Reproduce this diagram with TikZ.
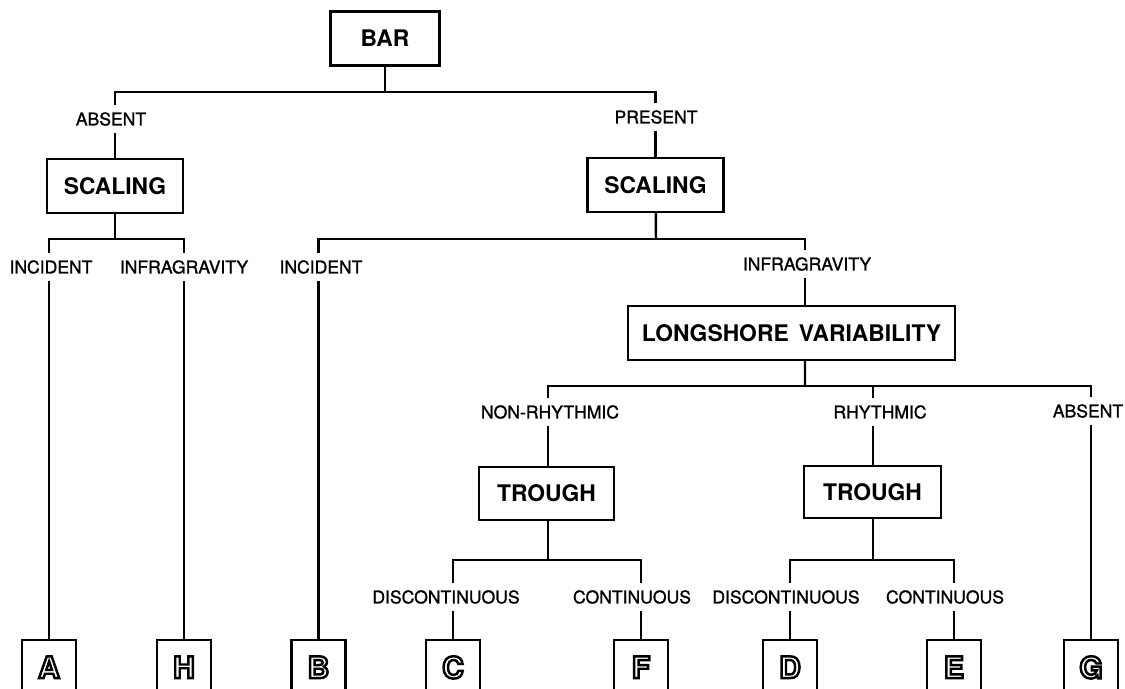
\documentclass[tikz,border=0pt]{standalone}
\usepackage{fontspec}
\setmainfont{TeX Gyre Heros}
\newfontfamily\lblfont[FakeBold=1.2]{TeX Gyre Heros}
\usepackage{xcolor}
\usepackage{tikz}
\usetikzlibrary{calc}

% outlined capitals for the leaves
\newcommand{\hollow}[1]{\raisebox{3.4pt}{\special{pdf:literal direct 1 Tr 1.4 w}#1\special{pdf:literal direct 0 Tr}}}

\tikzset{
  box/.style={draw, line width=1.4pt, minimum height=1.08cm, inner sep=0pt,
    font=\fontsize{13}{15}\selectfont\bfseries},
  lbl/.style={fill=white, inner xsep=1pt, inner ysep=4pt,
    font=\lblfont\fontsize{10}{12}\selectfont},
  leaf/.style={draw, line width=1.4pt, minimum width=1.08cm, minimum height=1.2cm,
    anchor=north, inner sep=0pt, font=\fontsize{17}{20}\selectfont\bfseries},
  wire/.style={line width=1.4pt}
}

\begin{document}
\begin{tikzpicture}[x=0.02cm, y=-0.02cm]

\useasboundingbox (0,0) rectangle (1125,689);
\clip (0,0) rectangle (1125,689);

% boxes
\node[box, minimum width=2.18cm] (bar) at (385,38.5) {BAR};
\node[box, minimum width=2.72cm] (sclL) at (115,186) {SCALING};
\node[box, minimum width=2.72cm] (sclR) at (655.5,185) {SCALING};
\node[box, minimum width=6.54cm] (lsv) at (791.5,333) {LONGSHORE\ \,VARIABILITY};
\node[box, minimum width=2.7cm, minimum height=1.06cm] (trL) at (546.5,493.5) {TROUGH};
\node[box, minimum width=2.74cm, minimum height=1.04cm] (trR) at (872.5,492) {TROUGH};

% leaves
\node[leaf] (A) at (49,639) {\hollow{A}};
\node[leaf] (H) at (184,639) {\hollow{H}};
\node[leaf] (B) at (318.5,639) {\hollow{B}};
\node[leaf] (C) at (453,639) {\hollow{C}};
\node[leaf] (F) at (641,639) {\hollow{F}};
\node[leaf] (D) at (790,639) {\hollow{D}};
\node[leaf] (E) at (954,639) {\hollow{E}};
\node[leaf] (G) at (1091,639) {\hollow{G}};

% junctions
\coordinate (j1) at (385,92);
\coordinate (j2) at (115,239);
\coordinate (j3) at (656,239);
\coordinate (j4) at (805,386);
\coordinate (j5) at (548,560);
\coordinate (j6) at (873,560);

\draw[wire] (bar) -- (j1);
\draw[wire] (sclL) |- (j1) -| (sclR);

\draw[wire] (sclL) -- (j2);
\draw[wire] (A) |- (j2) -| (H);

\draw[wire] (sclR) -- (j3);
\draw[wire] (B) |- (j3) -| ($(lsv.north)+(13.5,0)$);

\draw[wire] ($(lsv.south)+(13.5,0)$) -- (j4);
\draw[wire] (trL.north -| j5) |- (j4) -| (G);
\draw[wire] (trR.north -| j6) -- (j6 |- j4);

\draw[wire] (trL.south -| j5) -- (j5);
\draw[wire] (C) |- (j5) -| (F);

\draw[wire] (trR.south -| j6) -- (j6);
\draw[wire] (D) |- (j6) -| (E);

% labels
\node[lbl] (l1) at (111,119) {ABSENT};
\node[lbl] (l2) at (656,117) {PRESENT};
\node[lbl] (l3) at (51,267) {INCIDENT};
\node[lbl] (l4) at (184,267) {INFRAGRAVITY};
\node[lbl] (l5) at (321,267) {INCIDENT};
\node[lbl] (l6) at (807,264) {INFRAGRAVITY};
\node[lbl] (l7) at (550,412) {NON-RHYTHMIC};
\node[lbl] (l8) at (880,412) {RHYTHMIC};
\node[lbl] (l9) at (1088,411) {ABSENT};
\node[lbl] (l10) at (446,597) {DISCONTINUOUS};
\node[lbl] (l11) at (632,597) {CONTINUOUS};
\node[lbl] (l12) at (786,597) {DISCONTINUOUS};
\node[lbl] (l13) at (945,597) {CONTINUOUS};

\end{tikzpicture}
\end{document}
